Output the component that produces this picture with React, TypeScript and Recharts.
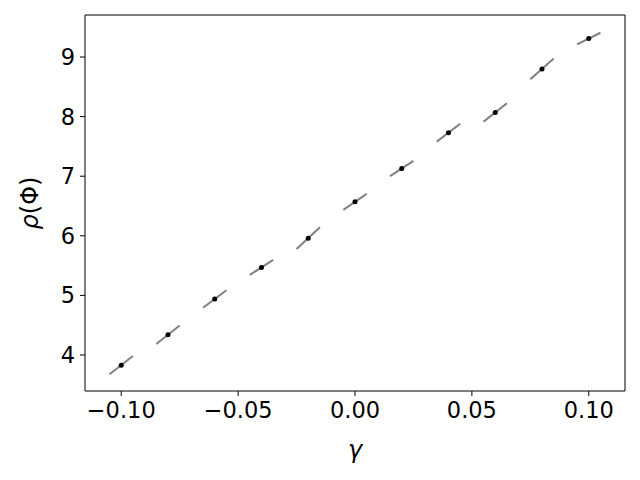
import React from 'react';
import {
  ComposedChart,
  ReferenceLine,
  Scatter,
  XAxis,
  YAxis,
  Label,
} from 'recharts';

const GAMMA = [-0.1, -0.08, -0.06, -0.04, -0.02, 0, 0.02, 0.04, 0.06, 0.08, 0.1];
const RHO = [3.83, 4.34, 4.94, 5.47, 5.96, 6.57, 7.13, 7.73, 8.07, 8.8, 9.31];
// local slope of each tangent segment
const SLOPE = [30.5, 31.3, 29.3, 25.1, 36.4, 26.9, 25.6, 29.8, 30.9, 35, 19.5];
const HALF_WIDTH = 0.005;

const X_TICKS = [-0.1, -0.05, 0, 0.05, 0.1];
const Y_TICKS = [4, 5, 6, 7, 8, 9];
const X_DOMAIN = [-0.1155, 0.1155];
const Y_DOMAIN = [3.396, 9.705];

const points = GAMMA.map((x, i) => ({ x, y: RHO[i] }));
const segments = GAMMA.map((x, i) => [
  { x: x - HALF_WIDTH, y: RHO[i] - SLOPE[i] * HALF_WIDTH },
  { x: x + HALF_WIDTH, y: RHO[i] + SLOPE[i] * HALF_WIDTH },
]);

const FONT = '"DejaVu Sans", sans-serif';
const tickStyle = { fontSize: 22.5, fill: '#000', fontFamily: FONT };

const fmt = (v: number) => v.toFixed(2).replace('-', '\u2212');

function YLabel(props: any) {
  const vb = props.viewBox;
  const cy = vb.y + vb.height / 2;
  return (
    <text
      x={30}
      y={cy}
      transform={`rotate(-90, 30, ${cy})`}
      textAnchor="middle"
      dominantBaseline="central"
      fontSize={24}
      fontFamily={FONT}
      fill="#000"
    >
      <tspan fontStyle="italic">ρ</tspan>(Φ)
    </text>
  );
}

export default function App() {
  return (
    <div style={{ position: 'absolute', left: 0, top: 0, background: '#fff' }}>
      <ComposedChart
        width={640}
        height={480}
        margin={{ top: 15, right: 15, bottom: 0, left: 0 }}
      >
        <XAxis
          type="number"
          dataKey="x"
          domain={X_DOMAIN}
          ticks={X_TICKS}
          tickFormatter={fmt}
          allowDataOverflow
          height={89}
          tick={tickStyle}
          tickSize={5}
          tickMargin={6}
          stroke="#000"
          axisLine={{ stroke: '#000', strokeWidth: 1 }}
          tickLine={{ stroke: '#000' }}
        >
          <Label
            value="γ"
            position="insideBottom"
            offset={22}
            style={{ fontSize: 24, fontStyle: 'italic', fill: '#000', fontFamily: FONT }}
          />
        </XAxis>
        <YAxis
          type="number"
          dataKey="y"
          domain={Y_DOMAIN}
          ticks={Y_TICKS}
          allowDataOverflow
          width={85}
          tick={tickStyle}
          tickSize={5}
          tickMargin={5}
          axisLine={{ stroke: '#000', strokeWidth: 1 }}
          tickLine={{ stroke: '#000' }}
        >
          <Label content={<YLabel />} />
        </YAxis>
        <ReferenceLine x={X_DOMAIN[1]} stroke="#000" strokeWidth={1} ifOverflow="visible" />
        <ReferenceLine y={Y_DOMAIN[1]} stroke="#000" strokeWidth={1} ifOverflow="visible" />
        {segments.map((seg, i) => (
          <ReferenceLine
            key={i}
            segment={seg}
            stroke="#808080"
            strokeWidth={2}
            ifOverflow="visible"
          />
        ))}
        <Scatter
          data={points}
          fill="#000"
          isAnimationActive={false}
          shape={(props: any) => <circle cx={props.cx} cy={props.cy} r={2.5} fill="#000" />}
        />
      </ComposedChart>
    </div>
  );
}
